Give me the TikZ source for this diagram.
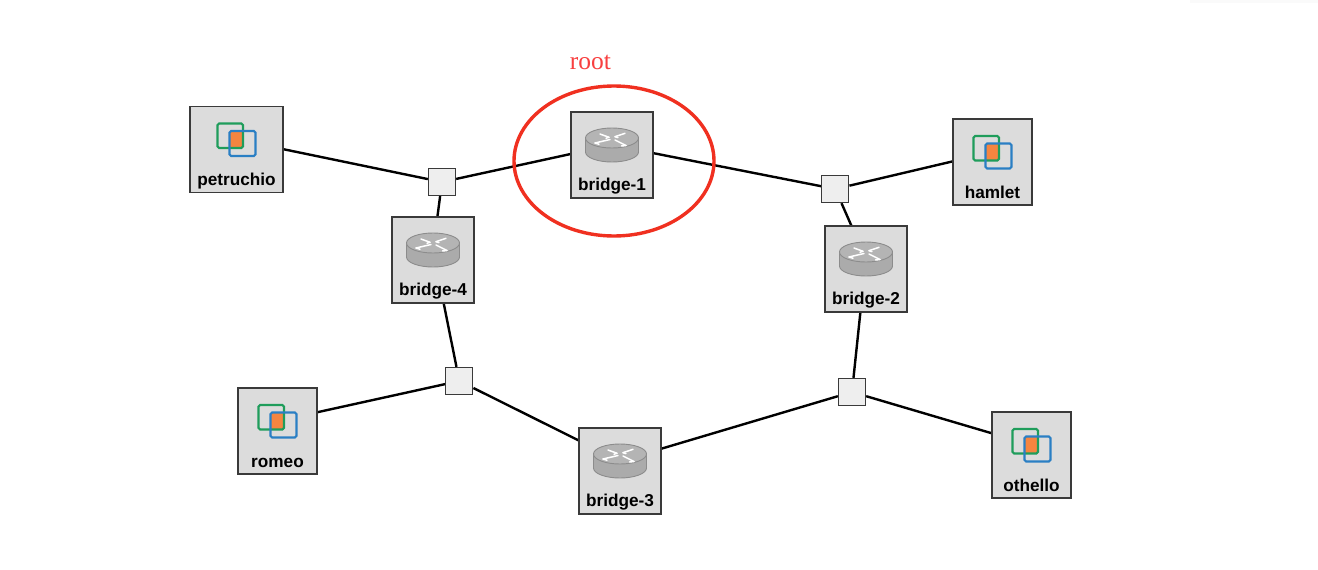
\documentclass[tikz,border=0pt]{standalone}
\usepackage{fontspec}
\setmainfont{Liberation Sans}
\newfontfamily\rootfont{Liberation Serif}
\usetikzlibrary{backgrounds,shapes.geometric}
\definecolor{boxfill}{HTML}{DCDCDC}
\definecolor{boxline}{HTML}{3A3A3A}
\definecolor{swfill}{HTML}{EEEEEE}
\definecolor{vmgreen}{HTML}{1F9D5B}
\definecolor{vmblue}{HTML}{2A7FC4}
\definecolor{vmorange}{HTML}{F58540}
\definecolor{rtop}{HTML}{B4B4B4}
\definecolor{rside}{HTML}{ABABAB}
\definecolor{rline}{HTML}{8C8C8C}
\definecolor{rootred}{HTML}{F03020}
\definecolor{roottext}{HTML}{F84040}
\definecolor{edgeshade}{HTML}{FAFAFA}
\tikzset{
  x=1pt,y=-1pt,
  box/.style={draw=boxline,line width=1.3pt,fill=boxfill,inner sep=0pt,minimum height=86pt},
  anchorpt/.style={inner sep=0pt,minimum size=0pt},
  sw/.style={draw=boxline,line width=1.3pt,fill=swfill,inner sep=0pt,minimum size=27pt},
  link/.style={draw=black,line width=2.4pt},
  lab/.style={font=\fontsize{17.2}{19}\selectfont\bfseries,anchor=base,inner sep=0pt,text=black},
  rarrow/.style={draw=white,line width=1.5pt,line cap=round},
}
\newcommand{\vmicon}[2]{%
  \begin{scope}[shift={(#1,#2)}]
    \fill[vmorange] (-7,-8.5) rectangle (6.5,8.5);
    \draw[vmgreen,line width=2.2pt,rounded corners=1.6pt] (-19,-16) rectangle (6.5,8.5);
    \draw[vmblue,line width=2.2pt,rounded corners=1.6pt] (-7,-8.5) rectangle (19,16.5);
  \end{scope}}
\newcommand{\routericon}[2]{%
  \begin{scope}[shift={(#1,#2)}]
    \filldraw[fill=rside,draw=rline,line width=0.9pt]
      (-26.5,-7) -- (-26.5,7) arc[start angle=180,end angle=360,x radius=26.5pt,y radius=10pt]
      -- (26.5,-7) -- cycle;
    \filldraw[fill=rtop,draw=rline,line width=0.9pt] (0,-7) ellipse[x radius=26.5pt,y radius=10pt];
    \draw[rarrow] (-12,-11) -- (-3,-7.7);
    \draw[rarrow] (-3,-7.7) -- (-6,-6.8);
    \draw[rarrow] (-2,-5.5) -- (-17,-2);
    \draw[rarrow] (-17,-2) -- (-13,-0.8);
    \draw[rarrow] (3,-8.3) -- (13,-11.7);
    \draw[rarrow] (3,-8.3) -- (6,-7.4);
    \draw[rarrow] (3,-5) -- (14,0.5);
    \draw[rarrow] (14,0.5) -- (9.5,1);
  \end{scope}}
\newcommand{\hostnode}[5]{%
  \node[box,minimum width=#4pt] (#1) at (#2,#3) {};
  \node[anchorpt] (#1-icon) at (#2,#3-10) {};
  \vmicon{#2}{#3-10}
  \node[lab] (#1-label) at (#2,#3+36) {#5};}
\newcommand{\bridgenode}[5]{%
  \node[box,minimum width=#4pt] (#1) at (#2,#3) {};
  \node[anchorpt] (#1-icon) at (#2,#3-10) {};
  \routericon{#2}{#3-10}
  \node[lab] (#1-label) at (#2,#3+35.5) {#5};}
\begin{document}
\begin{tikzpicture}
\useasboundingbox (0,0) rectangle (1318,570);
\begin{scope}[on background layer]
  \fill[white] (0,0) rectangle (1318,570);
  \fill[edgeshade] (1190,0) rectangle (1318,3);
\end{scope}
\hostnode{petruchio}{236.5}{149.5}{93}{petruchio}
\bridgenode{bridge1}{612}{155}{82}{bridge-1}
\hostnode{hamlet}{992.5}{162}{79}{hamlet}
\bridgenode{bridge4}{433}{260}{82}{bridge-4}
\bridgenode{bridge2}{866}{269}{82}{bridge-2}
\hostnode{romeo}{277.5}{431}{79}{romeo}
\bridgenode{bridge3}{620}{471}{82}{bridge-3}
\hostnode{othello}{1031.5}{455}{79}{othello}
\node[sw] (sw1) at (442,182) {};
\node[sw] (sw2) at (835.3,189) {};
\node[sw] (sw3) at (459.3,381) {};
\node[sw] (sw4) at (852,392) {};
\begin{scope}[on background layer]
  \draw[link] (petruchio-icon) -- (sw1);
  \draw[link] (bridge1-icon) -- (sw1);
  \draw[link] (bridge4-icon) -- (sw1);
  \draw[link] (bridge1-icon) -- (sw2);
  \draw[link] (hamlet-icon) -- (sw2);
  \draw[link] (bridge2-icon) -- (sw2);
  \draw[link] (bridge4-icon) -- (sw3);
  \draw[link] (romeo-icon) -- (sw3);
  \draw[link] (bridge3-icon) -- (sw3);
  \draw[link] (bridge2-icon) -- (sw4);
  \draw[link] (bridge3-icon) -- (sw4);
  \draw[link] (othello-icon) -- (sw4);
\end{scope}
\node[draw=rootred,line width=3.4pt,ellipse,inner sep=0pt,minimum width=200pt,minimum height=150pt] (rootring) at (614,161) {};
\node[text=roottext,font=\rootfont\fontsize{25.5}{27}\selectfont,inner sep=0pt,anchor=base] (rootlabel) at (590.5,69) {root};
\end{tikzpicture}
\end{document}
